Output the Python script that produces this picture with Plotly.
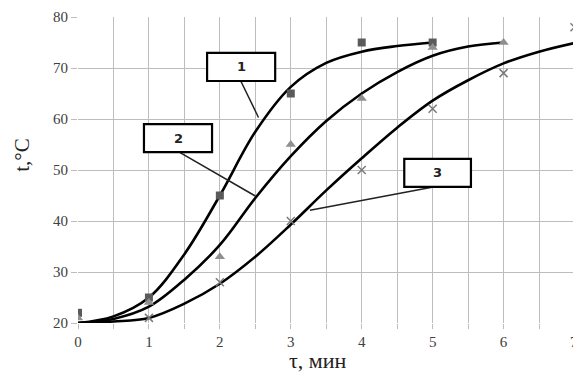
import plotly.graph_objects as go

# ---- data ----
curve_x1 = [0, 0.5, 1, 1.5, 2, 2.5, 3, 3.5, 4, 4.5, 5]
curve_y1 = [20, 21.3, 25, 33.5, 45, 57.5, 66.3, 71, 73.2, 74.3, 75]

curve_x2 = [0, 0.5, 1, 1.5, 2, 2.5, 3, 3.5, 4, 4.5, 5, 5.5, 6]
curve_y2 = [20, 20.8, 23.2, 28.5, 35.3, 44.5, 52.7, 59.6, 65, 69.2, 72.4, 74.2, 75]

curve_x3 = [0, 0.5, 1, 1.5, 2, 2.5, 3, 3.5, 4, 4.5, 5, 5.5, 6, 6.5, 7]
curve_y3 = [20, 20.3, 21, 23.8, 27.7, 33, 39.3, 46, 52.3, 58.3, 63.6, 67.6, 70.9, 73.2, 74.9]

pts_x1 = [0, 1, 2, 3, 4, 5]
pts_y1 = [22, 25, 45, 65, 75, 75]

pts_x2 = [0, 1, 2, 3, 4, 5, 6]
pts_y2 = [21, 24, 33, 55, 64, 74, 75]

pts_x3 = [1, 2, 3, 4, 5, 6, 7]
pts_y3 = [21, 28, 40, 50, 62, 69, 78]

labels = ["1", "2", "3"]
x_ticks = [i * 0.5 for i in range(15)]
x_ticktext = [str(int(v)) if v == int(v) else "" for v in x_ticks]
y_ticks = [20, 30, 40, 50, 60, 70, 80]

SERIF = "Liberation Serif, Times New Roman, serif"

fig = go.Figure()

for cx, cy in [(curve_x1, curve_y1), (curve_x2, curve_y2), (curve_x3, curve_y3)]:
    fig.add_trace(go.Scatter(x=cx, y=cy, mode="lines",
                             line=dict(color="black", width=2.6, shape="spline", smoothing=1.0),
                             showlegend=False, hoverinfo="skip"))

fig.add_trace(go.Scatter(x=pts_x1, y=pts_y1, mode="markers",
                         marker=dict(symbol="square", size=8, color="#5a5a5a"),
                         showlegend=False))
fig.add_trace(go.Scatter(x=pts_x2, y=pts_y2, mode="markers",
                         marker=dict(symbol="triangle-up", size=9, color="#8f8f8f"),
                         showlegend=False))
fig.add_trace(go.Scatter(x=pts_x3, y=pts_y3, mode="markers",
                         marker=dict(symbol="x-thin", size=8, color="#7a7a7a",
                                     line=dict(color="#7a7a7a", width=1.5)),
                         showlegend=False))

# label boxes (data coords) and connectors
boxes = [(1.82, 2.78, 67.45, 72.95), (0.93, 1.89, 53.5, 59.0), (4.60, 5.54, 46.7, 52.2)]
connectors = [((2.30, 67.3), (2.545, 60.3)), ((1.44, 53.4), (2.50, 44.9)), ((4.99, 46.6), (3.27, 42.1))]

shapes = []
annotations = []
for (a, b), lab, (x0, x1, y0, y1) in zip(connectors, labels, boxes):
    shapes.append(dict(type="line", xref="x", yref="y", x0=a[0], y0=a[1], x1=b[0], y1=b[1],
                       line=dict(color="#222222", width=1.5), layer="above"))
    shapes.append(dict(type="rect", xref="x", yref="y", x0=x0, x1=x1, y0=y0, y1=y1,
                       fillcolor="white", line=dict(color="black", width=2.2), layer="above"))
    annotations.append(dict(x=(x0 + x1) / 2, y=(y0 + y1) / 2, xref="x", yref="y", text="<b>" + lab + "</b>",
                            showarrow=False, font=dict(family="DejaVu Sans", size=13, color="#222222")))

annotations.append(dict(x=1.003, y=-0.028, xref="paper", yref="paper", text="7", showarrow=False,
                        xanchor="center", yanchor="top",
                        font=dict(family=SERIF, size=15, color="#404040")))
annotations.append(dict(x=0.485, y=-0.074, xref="paper", yref="paper", text="τ, мин", showarrow=False,
                        xanchor="center", yanchor="top",
                        font=dict(family=SERIF, size=22, color="#222222")))
annotations.append(dict(x=-0.113, y=0.55, xref="paper", yref="paper", text="t,°C", showarrow=False,
                        textangle=-90, xanchor="center", yanchor="middle",
                        font=dict(family=SERIF, size=21, color="#222222")))

fig.update_layout(
    width=573, height=376,
    margin=dict(l=78, r=0, t=17, b=53),
    paper_bgcolor="white", plot_bgcolor="white",
    shapes=shapes, annotations=annotations,
    xaxis=dict(range=[0, 6.979], tickvals=x_ticks, ticktext=x_ticktext,
               showgrid=True, gridcolor="#bdbdbd", gridwidth=1.4,
               ticks="outside", ticklen=5, tickcolor="#bdbdbd", tickwidth=1.4,
               zeroline=False, showline=False,
               tickfont=dict(family=SERIF, size=15, color="#404040")),
    yaxis=dict(range=[20, 80], tickvals=y_ticks,
               showgrid=True, gridcolor="#bdbdbd", gridwidth=1.4,
               ticks="outside", ticklen=6, tickcolor="#bdbdbd", tickwidth=1.4,
               zeroline=False, showline=False,
               tickfont=dict(family=SERIF, size=15, color="#404040")),
)

fig.write_html("out.html")
